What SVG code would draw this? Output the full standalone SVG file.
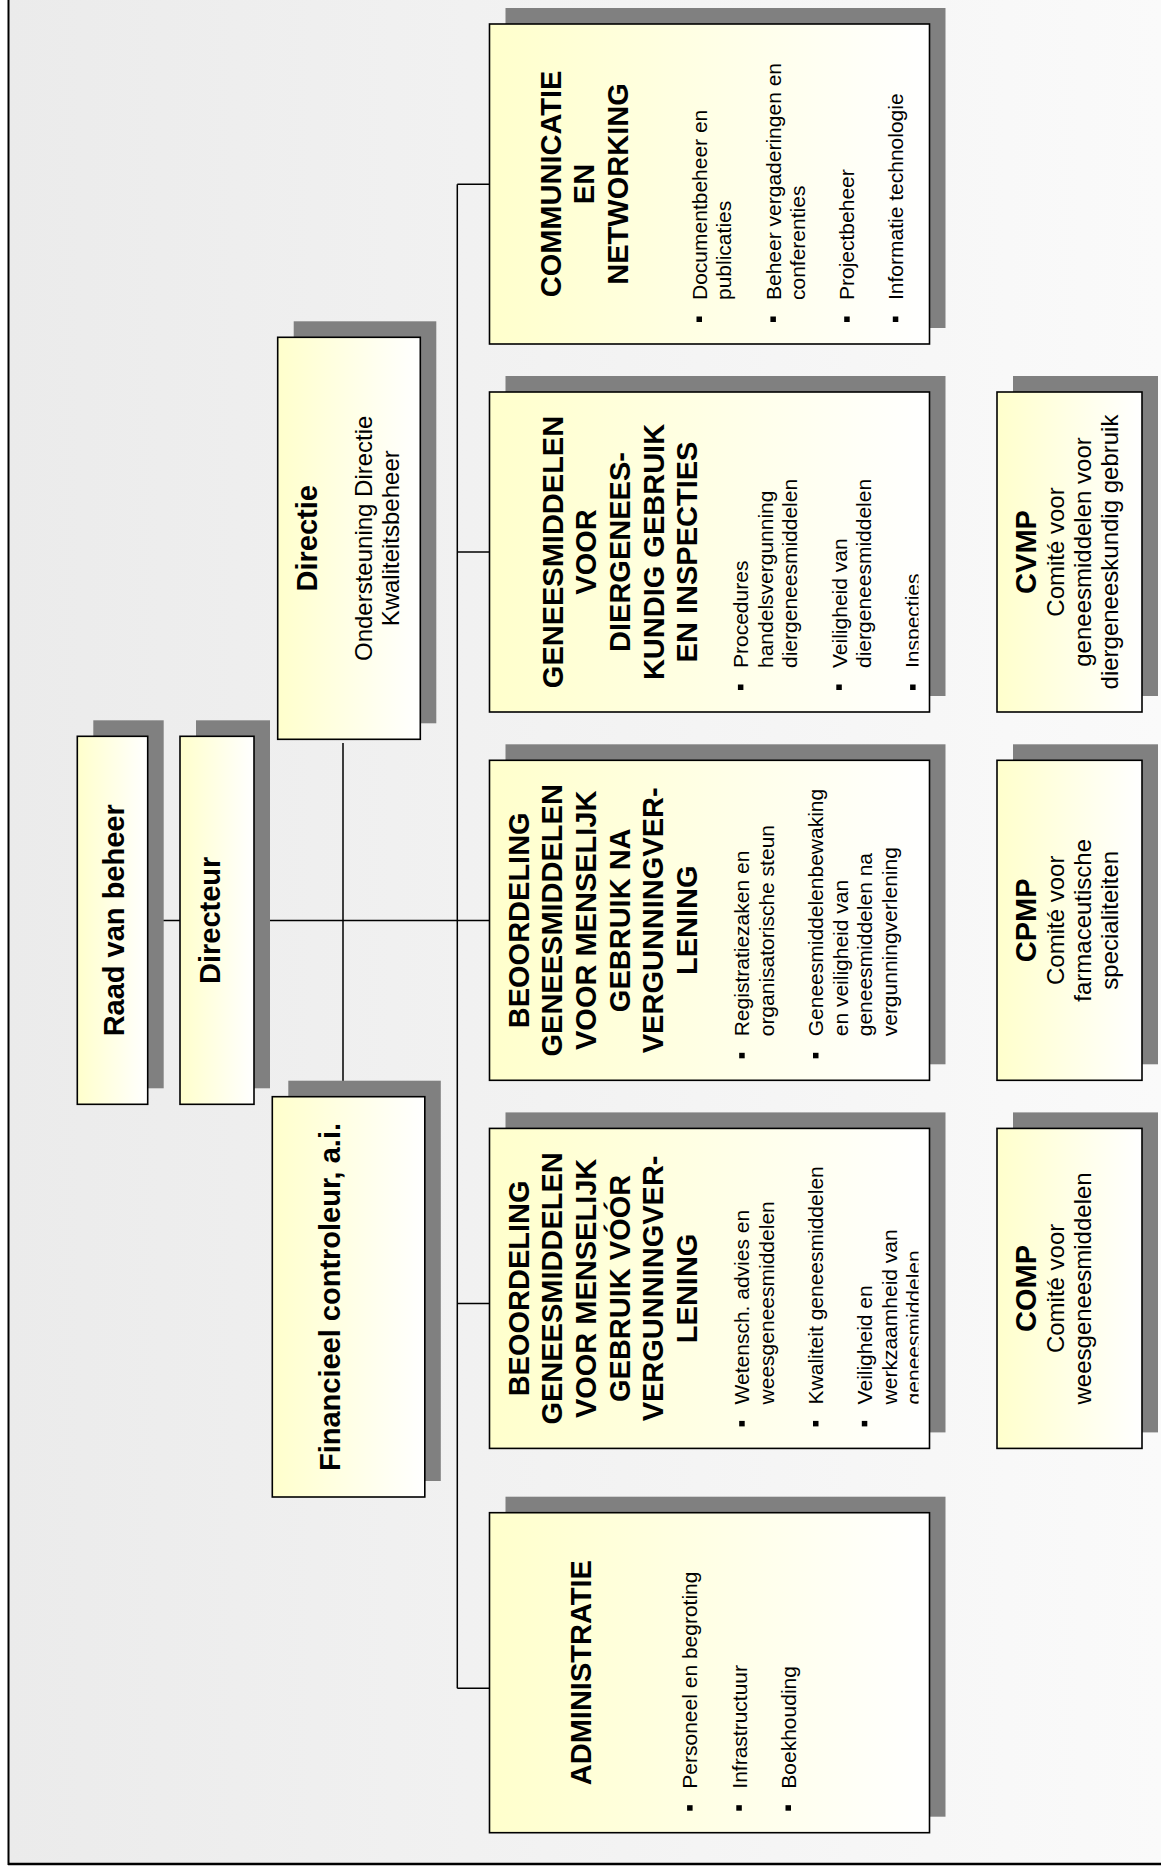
<svg xmlns="http://www.w3.org/2000/svg" width="1161" height="1872" viewBox="0 0 1161 1872">
<defs>
<linearGradient id="bg" x1="0" y1="0" x2="1" y2="0"><stop offset="0" stop-color="#ebebeb"/><stop offset="1" stop-color="#fafafa"/></linearGradient>
<linearGradient id="boxGrad" x1="0" y1="0" x2="0" y2="1"><stop offset="0" stop-color="#ffffcc"/><stop offset="1" stop-color="#ffffff"/></linearGradient>
<clipPath id="bigClip"><rect x="0" y="0" width="320" height="429"/></clipPath>
</defs>
<style>
.shadow{fill:#808080}
.box{fill:url(#boxGrad);stroke:#000;stroke-width:1.6}
.t{font-family:"Liberation Sans",Arial,sans-serif;fill:#000}
.h{font-size:29px;font-weight:bold;text-anchor:middle}
.s{font-size:24px;text-anchor:middle}
.b{font-size:21px}
.bul{fill:#000}
#connectors line{stroke:#000;stroke-width:1.5}
</style>
<rect x="0" y="0" width="1161" height="1872" fill="#ffffff"/>
<rect x="8" y="0" width="1153" height="1864" fill="url(#bg)"/>
<g id="frame">
<line x1="8.5" y1="0" x2="8.5" y2="1865" stroke="#000" stroke-width="2"/>
<line x1="8" y1="1864" x2="1161" y2="1864" stroke="#000" stroke-width="2.5"/>
</g>
<g id="connectors">
<line x1="147.7" y1="920.5" x2="180" y2="920.5"/>
<line x1="254" y1="920.5" x2="489.5" y2="920.5"/>
<line x1="343" y1="743" x2="343" y2="1096.7"/>
<line x1="457.3" y1="184.2" x2="457.3" y2="1688.3"/>
<line x1="457.3" y1="184.2" x2="489.5" y2="184.2"/>
<line x1="457.3" y1="552" x2="489.5" y2="552"/>
<line x1="457.3" y1="1303.5" x2="489.5" y2="1303.5"/>
<line x1="457.3" y1="1688.3" x2="489.5" y2="1688.3"/>
</g>
<g id="raad" transform="translate(77.3,1104.3) rotate(-90)">
<rect class="shadow" x="16" y="16" width="368" height="70.4"/>
<rect class="box" x="0" y="0" width="368" height="70.4"/>
<text class="t h" x="184" y="46.7">Raad van beheer</text>
</g>
<g id="directeur" transform="translate(180,1104.3) rotate(-90)">
<rect class="shadow" x="16" y="16" width="368" height="74"/>
<rect class="box" x="0" y="0" width="368" height="74"/>
<text class="t h" x="184" y="40">Directeur</text>
</g>
<g id="directie" transform="translate(277.7,739.3) rotate(-90)">
<rect class="shadow" x="16" y="16" width="402" height="142.6"/>
<rect class="box" x="0" y="0" width="402" height="142.6"/>
<text class="t h" x="201" y="39">Directie</text>
<text class="t s" x="201" y="94">Ondersteuning Directie</text>
<text class="t s" x="201" y="121.5">Kwaliteitsbeheer</text>
</g>
<g id="financieel" transform="translate(272.3,1497) rotate(-90)">
<rect class="shadow" x="16" y="16" width="400.3" height="152.5"/>
<rect class="box" x="0" y="0" width="400.3" height="152.5"/>
<text class="t h" x="200" y="67.7">Financieel controleur, a.i.</text>
</g>
<g id="communicatie" transform="translate(489.5,344) rotate(-90)">
<rect class="shadow" x="16" y="16" width="320" height="440"/>
<rect class="box" x="0" y="0" width="320" height="440"/>
<g clip-path="url(#bigClip)">
<text class="t h" x="160" y="71">COMMUNICATIE</text>
<text class="t h" x="160" y="104.7">EN</text>
<text class="t h" x="160" y="138.4">NETWORKING</text>
<rect class="bul" x="22" y="207" width="5.5" height="5.5"/>
<text class="t b" x="44" y="217.3">Documentbeheer en</text>
<text class="t b" x="44" y="241.9">publicaties</text>
<rect class="bul" x="22" y="280.9" width="5.5" height="5.5"/>
<text class="t b" x="44" y="291.1">Beheer vergaderingen en</text>
<text class="t b" x="44" y="315.7">conferenties</text>
<rect class="bul" x="22" y="354.7" width="5.5" height="5.5"/>
<text class="t b" x="44" y="364.9">Projectbeheer</text>
<rect class="bul" x="22" y="403.3" width="5.5" height="5.5"/>
<text class="t b" x="44" y="413.5">Informatie technologie</text>
</g>
</g>
<g id="diergeneeskundig" transform="translate(489.5,712) rotate(-90)">
<rect class="shadow" x="16" y="16" width="320" height="440"/>
<rect class="box" x="0" y="0" width="320" height="440"/>
<g clip-path="url(#bigClip)">
<text class="t h" x="160" y="73">GENEESMIDDELEN</text>
<text class="t h" x="160" y="106.7">VOOR</text>
<text class="t h" x="160" y="140.4">DIERGENEES-</text>
<text class="t h" x="160" y="174.1">KUNDIG GEBRUIK</text>
<text class="t h" x="160" y="207.8">EN INSPECTIES</text>
<rect class="bul" x="22" y="248.4" width="5.5" height="5.5"/>
<text class="t b" x="44" y="258.6">Procedures</text>
<text class="t b" x="44" y="283.2">handelsvergunning</text>
<text class="t b" x="44" y="307.8">diergeneesmiddelen</text>
<rect class="bul" x="22" y="346.8" width="5.5" height="5.5"/>
<text class="t b" x="44" y="357">Veiligheid van</text>
<text class="t b" x="44" y="381.6">diergeneesmiddelen</text>
<rect class="bul" x="22" y="420.6" width="5.5" height="5.5"/>
<text class="t b" x="44" y="430.8">Inspecties</text>
</g>
</g>
<g id="beoordeling-na" transform="translate(489.5,1080.3) rotate(-90)">
<rect class="shadow" x="16" y="16" width="320" height="440"/>
<rect class="box" x="0" y="0" width="320" height="440"/>
<g clip-path="url(#bigClip)">
<text class="t h" x="160" y="39">BEOORDELING</text>
<text class="t h" x="160" y="72.7">GENEESMIDDELEN</text>
<text class="t h" x="160" y="106.4">VOOR MENSELIJK</text>
<text class="t h" x="160" y="140.1">GEBRUIK NA</text>
<text class="t h" x="160" y="173.8">VERGUNNINGVER-</text>
<text class="t h" x="160" y="207.5">LENING</text>
<rect class="bul" x="22" y="249.7" width="5.5" height="5.5"/>
<text class="t b" x="44" y="259.9">Registratiezaken en</text>
<text class="t b" x="44" y="284.5">organisatorische steun</text>
<rect class="bul" x="22" y="323.5" width="5.5" height="5.5"/>
<text class="t b" x="44" y="333.7">Geneesmiddelenbewaking</text>
<text class="t b" x="44" y="358.3">en veiligheid van</text>
<text class="t b" x="44" y="382.9">geneesmiddelen na</text>
<text class="t b" x="44" y="407.5">vergunningverlening</text>
</g>
</g>
<g id="beoordeling-voor" transform="translate(489.5,1448.4) rotate(-90)">
<rect class="shadow" x="16" y="16" width="320" height="440"/>
<rect class="box" x="0" y="0" width="320" height="440"/>
<g clip-path="url(#bigClip)">
<text class="t h" x="160" y="39">BEOORDELING</text>
<text class="t h" x="160" y="72.7">GENEESMIDDELEN</text>
<text class="t h" x="160" y="106.4">VOOR MENSELIJK</text>
<text class="t h" x="160" y="140.1">GEBRUIK VÓÓR</text>
<text class="t h" x="160" y="173.8">VERGUNNINGVER-</text>
<text class="t h" x="160" y="207.5">LENING</text>
<rect class="bul" x="22" y="249.7" width="5.5" height="5.5"/>
<text class="t b" x="44" y="259.9">Wetensch. advies en</text>
<text class="t b" x="44" y="284.5">weesgeneesmiddelen</text>
<rect class="bul" x="22" y="323.5" width="5.5" height="5.5"/>
<text class="t b" x="44" y="333.7">Kwaliteit geneesmiddelen</text>
<rect class="bul" x="22" y="372.3" width="5.5" height="5.5"/>
<text class="t b" x="44" y="382.5">Veiligheid en</text>
<text class="t b" x="44" y="407.1">werkzaamheid van</text>
<text class="t b" x="44" y="431.7">geneesmiddelen</text>
</g>
</g>
<g id="administratie" transform="translate(489.5,1832.7) rotate(-90)">
<rect class="shadow" x="16" y="16" width="320" height="440"/>
<rect class="box" x="0" y="0" width="320" height="440"/>
<g clip-path="url(#bigClip)">
<text class="t h" x="160" y="101.2">ADMINISTRATIE</text>
<rect class="bul" x="22" y="197.6" width="5.5" height="5.5"/>
<text class="t b" x="44" y="207.8">Personeel en begroting</text>
<rect class="bul" x="22" y="246.8" width="5.5" height="5.5"/>
<text class="t b" x="44" y="257">Infrastructuur</text>
<rect class="bul" x="22" y="296" width="5.5" height="5.5"/>
<text class="t b" x="44" y="306.2">Boekhouding</text>
</g>
</g>
<g id="cvmp" transform="translate(997,712) rotate(-90)">
<rect class="shadow" x="16" y="16" width="320" height="145"/>
<rect class="box" x="0" y="0" width="320" height="145"/>
<text class="t h" x="160" y="39">CVMP</text>
<text class="t s" x="160" y="67">Comité voor</text>
<text class="t s" x="160" y="94">geneesmiddelen voor</text>
<text class="t s" x="160" y="121">diergeneeskundig gebruik</text>
</g>
<g id="cpmp" transform="translate(997,1080.3) rotate(-90)">
<rect class="shadow" x="16" y="16" width="320" height="145"/>
<rect class="box" x="0" y="0" width="320" height="145"/>
<text class="t h" x="160" y="39">CPMP</text>
<text class="t s" x="160" y="67">Comité voor</text>
<text class="t s" x="160" y="94">farmaceutische</text>
<text class="t s" x="160" y="121">specialiteiten</text>
</g>
<g id="comp" transform="translate(997,1448.4) rotate(-90)">
<rect class="shadow" x="16" y="16" width="320" height="145"/>
<rect class="box" x="0" y="0" width="320" height="145"/>
<text class="t h" x="160" y="39">COMP</text>
<text class="t s" x="160" y="67">Comité voor</text>
<text class="t s" x="160" y="94">weesgeneesmiddelen</text>
</g>
</svg>
